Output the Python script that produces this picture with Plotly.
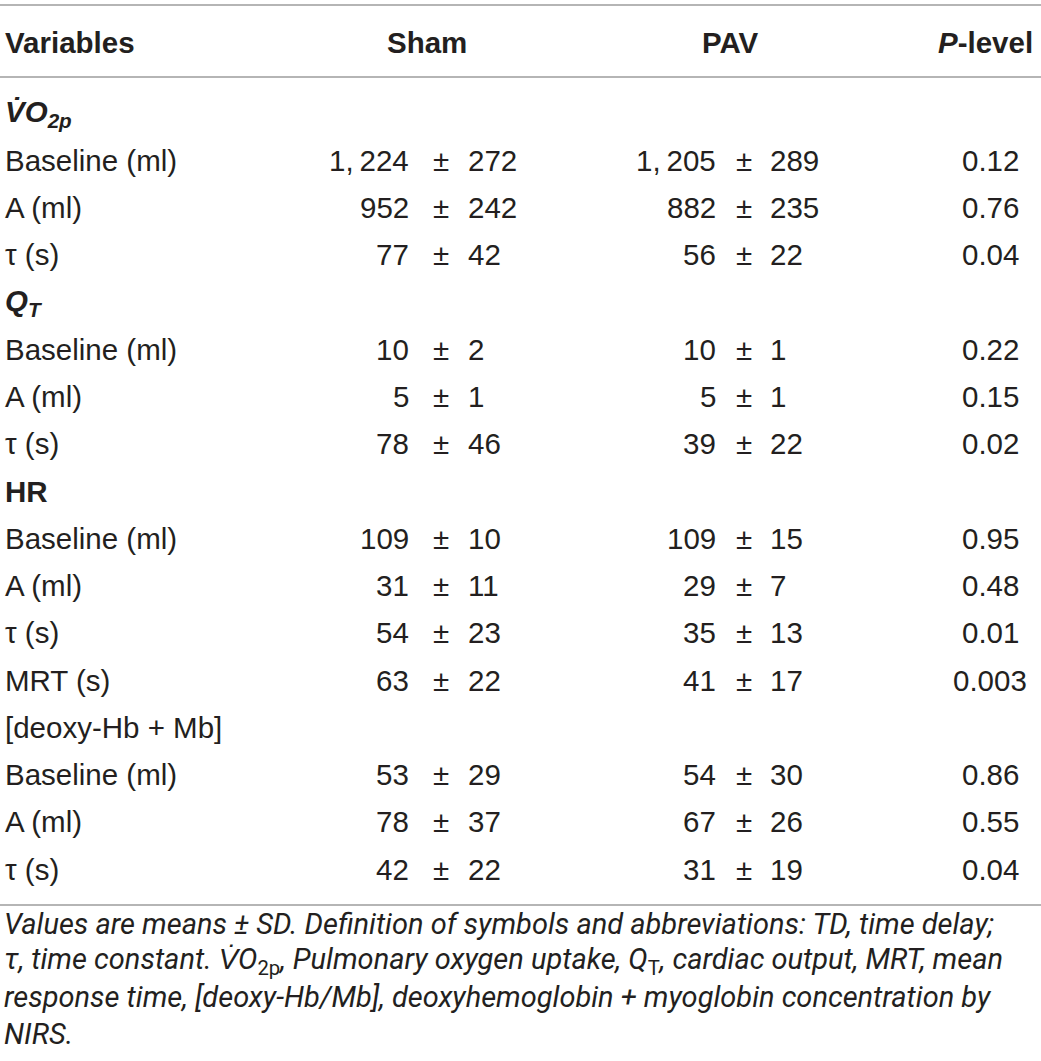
import plotly.graph_objects as go

# Table content
row_labels = [
    "<b><i>V\u0307O<sub>2p</sub></i></b>", "Baseline (ml)", "A (ml)", "\u03c4 (s)",
    "<b><i>Q<sub>T</sub></i></b>", "Baseline (ml)", "A (ml)", "\u03c4 (s)",
    "<b>HR</b>", "Baseline (ml)", "A (ml)", "\u03c4 (s)", "MRT (s)",
    "[deoxy-Hb + Mb]", "Baseline (ml)", "A (ml)", "\u03c4 (s)",
]
section_rows = [0, 4, 8, 13]

sham_mean = ["1,\u2009224", "952", "77", "10", "5", "78", "109", "31", "54", "63", "53", "78", "42"]
sham_sd = ["272", "242", "42", "2", "1", "46", "10", "11", "23", "22", "29", "37", "22"]
pav_mean = ["1,\u2009205", "882", "56", "10", "5", "39", "109", "29", "35", "41", "54", "67", "31"]
pav_sd = ["289", "235", "22", "1", "1", "22", "15", "7", "13", "17", "30", "26", "19"]
p_level = ["0.12", "0.76", "0.04", "0.22", "0.15", "0.02", "0.95", "0.48", "0.01", "0.003", "0.86", "0.55", "0.04"]

headers = ["<b>Variables</b>", "<b>Sham</b>", "<b>PAV</b>", "<b><i>P</i>-level</b>"]

UP = '<span style="font-style:normal">'
footnote = [
    "Values are means \u00b1 SD. Definition of symbols and abbreviations: TD, time delay;",
    "\u03c4, time constant. V\u0307O<sub>" + UP + "2p</span></sub>, Pulmonary oxygen uptake, Q<sub>"
    + UP + "T</span></sub>, cardiac output, MRT, mean",
    "response time, [deoxy-Hb/Mb], deoxyhemoglobin + myoglobin concentration by",
    "NIRS.",
]

TXT = "#231f20"
RULE = "#9d9d9d"
FONT = "Liberation Sans, Arial, Helvetica, sans-serif"
W, H = 1041, 1061

row_y0, row_step = 113, 47.25
ys = [row_y0 + i * row_step for i in range(len(row_labels))]
data_ys = [y for i, y in enumerate(ys) if i not in section_rows]

ann = []


def add(x, y, text, anchor="left", size=29.5, family=FONT):
    ann.append(dict(x=x, y=y, xref="x", yref="y", text=text, showarrow=False,
                    xanchor=anchor, yanchor="middle",
                    font=dict(family=family, size=size, color=TXT)))


# header row
add(3, 42, headers[0])
add(427, 42, headers[1], "center")
add(730, 42, headers[2], "center")
add(1035, 42, headers[3], "right")

for y, lab in zip(ys, row_labels):
    add(3, y, lab)

for k, y in enumerate(data_ys):
    add(411, y, sham_mean[k], "right")
    add(441, y, "\u00b1", "center")
    add(466, y, sham_sd[k], "left")
    add(718, y, pav_mean[k], "right")
    add(744, y, "\u00b1", "center")
    add(768, y, pav_sd[k], "left")
    add(990, y, p_level[k], "center")

foot_y = [924, 961, 997, 1034]
for y, line in zip(foot_y, footnote):
    add(2, y, "<i>" + line + "</i>", "left", 29,
        "Liberation Sans Narrow, Roboto, Liberation Sans, sans-serif")

fig = go.Figure()
fig.add_trace(go.Scatter(x=[0, W], y=[0, H], mode="markers",
                         marker=dict(opacity=0), hoverinfo="skip", showlegend=False))

for yr in [5, 77, 905]:
    fig.add_shape(type="line", x0=0, x1=W, y0=yr, y1=yr, xref="x", yref="y",
                  line=dict(color=RULE, width=1.6))

fig.update_layout(
    width=W, height=H,
    margin=dict(l=0, r=0, t=0, b=0),
    paper_bgcolor="white", plot_bgcolor="white",
    annotations=ann,
    xaxis=dict(range=[0, W], visible=False, fixedrange=True),
    yaxis=dict(range=[H, 0], visible=False, fixedrange=True),
    showlegend=False,
)

fig.write_html("out.html", post_script="document.body.style.margin='0';",
               config={"displayModeBar": False})
